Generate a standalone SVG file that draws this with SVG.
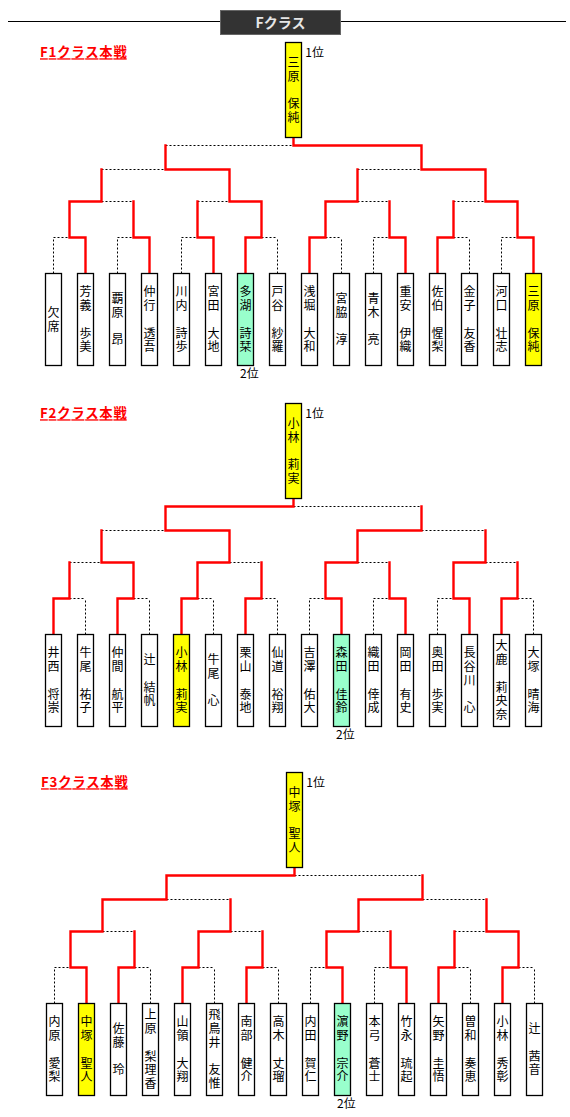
<svg xmlns="http://www.w3.org/2000/svg" width="570" height="1117" viewBox="0 0 570 1117">
<style>
text{font-family:"Noto Sans CJK JP","Noto Sans CJK SC",sans-serif}
.nm{font-size:12px;fill:#000;text-anchor:middle}
.box{fill:#fff;stroke:#000;stroke-width:1.3}
.win{fill:#ffff00}
.sec{fill:#99ffcc}
.red{fill:none;stroke:#ff0000;stroke-width:2.4;stroke-linecap:square;stroke-linejoin:miter}
.dot{fill:none;stroke:#000;stroke-width:1;stroke-dasharray:2 2}
.lbl{font-size:13.3px;font-weight:bold;fill:#ff0000;text-decoration:underline}
.rk{font-size:12px;fill:#000}
</style>
<rect width="570" height="1117" fill="#fff"/>
<g id="header">
<line x1="8" y1="21.5" x2="566" y2="21.5" stroke="#000" stroke-width="1.2"/>
<rect x="220.5" y="10.5" width="120" height="24" fill="#333333" stroke="#666666"/>
<text x="280.5" y="28" font-size="14" font-weight="bold" fill="#e6e6e6" text-anchor="middle">Fクラス</text>
</g>
<g id="connectors">
<g id="f1-lines">
<path class="dot" d="M53.5 273.5V237.5M117.5 273.5V237.5M181.5 273.5V237.5M277.5 273.5V237.5M341.5 273.5V237.5M373.5 273.5V237.5M469.5 273.5V237.5M501.5 273.5V237.5M53.5 237.5H69.5M117.5 237.5H133.5M181.5 237.5H197.5M261.5 237.5H277.5M325.5 237.5H341.5M373.5 237.5H389.5M453.5 237.5H469.5M501.5 237.5H517.5M101.5 201.5H133.5M197.5 201.5H229.5M357.5 201.5H389.5M453.5 201.5H485.5M101.5 169.5H165.5M357.5 169.5H421.5M165.5 145.5H293.5"/>
<path class="red" d="M85.5 273.5V237.5H69.5V201.5H101.5V169.5M149.5 273.5V237.5H133.5V201.5M213.5 273.5V237.5H197.5V201.5M245.5 273.5V237.5H261.5V201.5H229.5V169.5H165.5V145.5M309.5 273.5V237.5H325.5V201.5H357.5V169.5M405.5 273.5V237.5H389.5V201.5M437.5 273.5V237.5H453.5V201.5M533.5 273.5V237.5H517.5V201.5H485.5V169.5H421.5V145.5H293.5V137.5"/>
</g>
<g id="f2-lines" transform="translate(0,361)">
<path class="dot" d="M85.5 273.5V237.5M149.5 273.5V237.5M213.5 273.5V237.5M277.5 273.5V237.5M309.5 273.5V237.5M373.5 273.5V237.5M437.5 273.5V237.5M533.5 273.5V237.5M69.5 237.5H85.5M133.5 237.5H149.5M197.5 237.5H213.5M261.5 237.5H277.5M309.5 237.5H325.5M373.5 237.5H389.5M437.5 237.5H453.5M517.5 237.5H533.5M69.5 201.5H101.5M229.5 201.5H261.5M357.5 201.5H389.5M485.5 201.5H517.5M101.5 169.5H165.5M421.5 169.5H485.5M293.5 145.5H421.5"/>
<path class="red" d="M53.5 273.5V237.5H69.5V201.5M117.5 273.5V237.5H133.5V201.5H101.5V169.5M181.5 273.5V237.5H197.5V201.5H229.5V169.5H165.5V145.5H293.5V137.5M245.5 273.5V237.5H261.5V201.5M341.5 273.5V237.5H325.5V201.5H357.5V169.5H421.5V145.5M405.5 273.5V237.5H389.5V201.5M469.5 273.5V237.5H453.5V201.5H485.5V169.5M501.5 273.5V237.5H517.5V201.5"/>
</g>
<g id="f3-lines" transform="translate(1,730)">
<path class="dot" d="M53.5 273.5V237.5M149.5 273.5V237.5M213.5 273.5V237.5M277.5 273.5V237.5M309.5 273.5V237.5M373.5 273.5V237.5M469.5 273.5V237.5M533.5 273.5V237.5M53.5 237.5H69.5M133.5 237.5H149.5M197.5 237.5H213.5M261.5 237.5H277.5M309.5 237.5H325.5M373.5 237.5H389.5M453.5 237.5H469.5M517.5 237.5H533.5M101.5 201.5H133.5M229.5 201.5H261.5M357.5 201.5H389.5M453.5 201.5H485.5M165.5 169.5H229.5M421.5 169.5H485.5M293.5 145.5H421.5"/>
<path class="red" d="M85.5 273.5V237.5H69.5V201.5H101.5V169.5H165.5V145.5H293.5V137.5M117.5 273.5V237.5H133.5V201.5M181.5 273.5V237.5H197.5V201.5H229.5V169.5M245.5 273.5V237.5H261.5V201.5M341.5 273.5V237.5H325.5V201.5H357.5V169.5H421.5V145.5M405.5 273.5V237.5H389.5V201.5M437.5 273.5V237.5H453.5V201.5M501.5 273.5V237.5H517.5V201.5H485.5V169.5"/>
</g>
</g>

<g id="f1">
<text class="lbl" x="40" y="57.3" textLength="86.7" lengthAdjust="spacing">F1クラス本戦</text>
<g id="f1-winner"><rect class="box win" x="285.5" y="42.5" width="16" height="95"/><text class="nm" x="293.5 293.5 293.5 293.5" y="66.8 80.6 108.1 121.8">三原保純</text></g>
<text class="rk" x="305.3" y="56.5">1位</text>
<g id="f1-p00"><rect class="box" x="45.5" y="273.5" width="16" height="92"/><text class="nm" x="53.5 53.5" y="316.9 330.7">欠席</text></g>
<g id="f1-p01"><rect class="box" x="77.5" y="273.5" width="16" height="92"/><text class="nm" x="85.5 85.5 85.5 85.5" y="296.3 310.1 337.6 351.3">芳義歩美</text></g>
<g id="f1-p02"><rect class="box" x="109.5" y="273.5" width="16" height="92"/><text class="nm" x="117.5 117.5 117.5" y="303.2 316.9 344.4">覇原昂</text></g>
<g id="f1-p03"><rect class="box" x="141.5" y="273.5" width="16" height="92"/><text class="nm" x="149.5 149.5 149.5 149.5" y="296.3 310.1 337.6 351.3">仲行透吾</text></g>
<g id="f1-p04"><rect class="box" x="173.5" y="273.5" width="16" height="92"/><text class="nm" x="181.5 181.5 181.5 181.5" y="296.3 310.1 337.6 351.3">川内詩歩</text></g>
<g id="f1-p05"><rect class="box" x="205.5" y="273.5" width="16" height="92"/><text class="nm" x="213.5 213.5 213.5 213.5" y="296.3 310.1 337.6 351.3">宮田大地</text></g>
<g id="f1-p06"><rect class="box sec" x="237.5" y="273.5" width="16" height="92"/><text class="nm" x="245.5 245.5 245.5 245.5" y="296.3 310.1 337.6 351.3">多湖詩栞</text></g>
<g id="f1-p07"><rect class="box" x="269.5" y="273.5" width="16" height="92"/><text class="nm" x="277.5 277.5 277.5 277.5" y="296.3 310.1 337.6 351.3">戸谷紗羅</text></g>
<g id="f1-p08"><rect class="box" x="301.5" y="273.5" width="16" height="92"/><text class="nm" x="309.5 309.5 309.5 309.5" y="296.3 310.1 337.6 351.3">浅堀大和</text></g>
<g id="f1-p09"><rect class="box" x="333.5" y="273.5" width="16" height="92"/><text class="nm" x="341.5 341.5 341.5" y="303.2 316.9 344.4">宮脇淳</text></g>
<g id="f1-p10"><rect class="box" x="365.5" y="273.5" width="16" height="92"/><text class="nm" x="373.5 373.5 373.5" y="303.2 316.9 344.4">青木亮</text></g>
<g id="f1-p11"><rect class="box" x="397.5" y="273.5" width="16" height="92"/><text class="nm" x="405.5 405.5 405.5 405.5" y="296.3 310.1 337.6 351.3">重安伊織</text></g>
<g id="f1-p12"><rect class="box" x="429.5" y="273.5" width="16" height="92"/><text class="nm" x="437.5 437.5 437.5 437.5" y="296.3 310.1 337.6 351.3">佐伯惺梨</text></g>
<g id="f1-p13"><rect class="box" x="461.5" y="273.5" width="16" height="92"/><text class="nm" x="469.5 469.5 469.5 469.5" y="296.3 310.1 337.6 351.3">金子友香</text></g>
<g id="f1-p14"><rect class="box" x="493.5" y="273.5" width="16" height="92"/><text class="nm" x="501.5 501.5 501.5 501.5" y="296.3 310.1 337.6 351.3">河口壮志</text></g>
<g id="f1-p15"><rect class="box win" x="525.5" y="273.5" width="16" height="92"/><text class="nm" x="533.5 533.5 533.5 533.5" y="296.3 310.1 337.6 351.3">三原保純</text></g>
<text class="rk" x="240" y="377.5">2位</text>
</g>

<g id="f2" transform="translate(0,361)">
<text class="lbl" x="40" y="57.3" textLength="86.7" lengthAdjust="spacing">F2クラス本戦</text>
<g id="f2-winner"><rect class="box win" x="285.5" y="42.5" width="16" height="95"/><text class="nm" x="293.5 293.5 293.5 293.5" y="66.8 80.6 108.1 121.8">小林莉実</text></g>
<text class="rk" x="305.3" y="56.5">1位</text>
<g id="f2-p00"><rect class="box" x="45.5" y="273.5" width="16" height="92"/><text class="nm" x="53.5 53.5 53.5 53.5" y="296.3 310.1 337.6 351.3">井西将崇</text></g>
<g id="f2-p01"><rect class="box" x="77.5" y="273.5" width="16" height="92"/><text class="nm" x="85.5 85.5 85.5 85.5" y="296.3 310.1 337.6 351.3">牛尾祐子</text></g>
<g id="f2-p02"><rect class="box" x="109.5" y="273.5" width="16" height="92"/><text class="nm" x="117.5 117.5 117.5 117.5" y="296.3 310.1 337.6 351.3">仲間航平</text></g>
<g id="f2-p03"><rect class="box" x="141.5" y="273.5" width="16" height="92"/><text class="nm" x="149.5 149.5 149.5" y="303.2 330.7 344.4">辻結帆</text></g>
<g id="f2-p04"><rect class="box win" x="173.5" y="273.5" width="16" height="92"/><text class="nm" x="181.5 181.5 181.5 181.5" y="296.3 310.1 337.6 351.3">小林莉実</text></g>
<g id="f2-p05"><rect class="box" x="205.5" y="273.5" width="16" height="92"/><text class="nm" x="213.5 213.5 213.5" y="303.2 316.9 344.4">牛尾心</text></g>
<g id="f2-p06"><rect class="box" x="237.5" y="273.5" width="16" height="92"/><text class="nm" x="245.5 245.5 245.5 245.5" y="296.3 310.1 337.6 351.3">栗山泰地</text></g>
<g id="f2-p07"><rect class="box" x="269.5" y="273.5" width="16" height="92"/><text class="nm" x="277.5 277.5 277.5 277.5" y="296.3 310.1 337.6 351.3">仙道裕翔</text></g>
<g id="f2-p08"><rect class="box" x="301.5" y="273.5" width="16" height="92"/><text class="nm" x="309.5 309.5 309.5 309.5" y="296.3 310.1 337.6 351.3">吉澤佑大</text></g>
<g id="f2-p09"><rect class="box sec" x="333.5" y="273.5" width="16" height="92"/><text class="nm" x="341.5 341.5 341.5 341.5" y="296.3 310.1 337.6 351.3">森田佳鈴</text></g>
<g id="f2-p10"><rect class="box" x="365.5" y="273.5" width="16" height="92"/><text class="nm" x="373.5 373.5 373.5 373.5" y="296.3 310.1 337.6 351.3">織田倖成</text></g>
<g id="f2-p11"><rect class="box" x="397.5" y="273.5" width="16" height="92"/><text class="nm" x="405.5 405.5 405.5 405.5" y="296.3 310.1 337.6 351.3">岡田有史</text></g>
<g id="f2-p12"><rect class="box" x="429.5" y="273.5" width="16" height="92"/><text class="nm" x="437.5 437.5 437.5 437.5" y="296.3 310.1 337.6 351.3">奥田歩実</text></g>
<g id="f2-p13"><rect class="box" x="461.5" y="273.5" width="16" height="92"/><text class="nm" x="469.5 469.5 469.5 469.5" y="296.3 310.1 323.8 351.3">長谷川心</text></g>
<g id="f2-p14"><rect class="box" x="493.5" y="273.5" width="16" height="92"/><text class="nm" x="501.5 501.5 501.5 501.5 501.5" y="289.4 303.2 330.7 344.4 358.2">大鹿莉央奈</text></g>
<g id="f2-p15"><rect class="box" x="525.5" y="273.5" width="16" height="92"/><text class="nm" x="533.5 533.5 533.5 533.5" y="296.3 310.1 337.6 351.3">大塚晴海</text></g>
<text class="rk" x="336" y="377.5">2位</text>
</g>

<g id="f3" transform="translate(1,730)">
<text class="lbl" x="40" y="57.3" textLength="86.7" lengthAdjust="spacing">F3クラス本戦</text>
<g id="f3-winner"><rect class="box win" x="285.5" y="42.5" width="16" height="95"/><text class="nm" x="293.5 293.5 293.5 293.5" y="66.8 80.6 108.1 121.8">中塚聖人</text></g>
<text class="rk" x="305.3" y="56.5">1位</text>
<g id="f3-p00"><rect class="box" x="45.5" y="273.5" width="16" height="92"/><text class="nm" x="53.5 53.5 53.5 53.5" y="296.3 310.1 337.6 351.3">内原愛梨</text></g>
<g id="f3-p01"><rect class="box win" x="77.5" y="273.5" width="16" height="92"/><text class="nm" x="85.5 85.5 85.5 85.5" y="296.3 310.1 337.6 351.3">中塚聖人</text></g>
<g id="f3-p02"><rect class="box" x="109.5" y="273.5" width="16" height="92"/><text class="nm" x="117.5 117.5 117.5" y="303.2 316.9 344.4">佐藤玲</text></g>
<g id="f3-p03"><rect class="box" x="141.5" y="273.5" width="16" height="92"/><text class="nm" x="149.5 149.5 149.5 149.5 149.5" y="289.4 303.2 330.7 344.4 358.2">上原梨理香</text></g>
<g id="f3-p04"><rect class="box" x="173.5" y="273.5" width="16" height="92"/><text class="nm" x="181.5 181.5 181.5 181.5" y="296.3 310.1 337.6 351.3">山領大翔</text></g>
<g id="f3-p05"><rect class="box" x="205.5" y="273.5" width="16" height="92"/><text class="nm" x="213.5 213.5 213.5 213.5 213.5" y="289.4 303.2 316.9 344.4 358.2">飛鳥井友惟</text></g>
<g id="f3-p06"><rect class="box" x="237.5" y="273.5" width="16" height="92"/><text class="nm" x="245.5 245.5 245.5 245.5" y="296.3 310.1 337.6 351.3">南部健介</text></g>
<g id="f3-p07"><rect class="box" x="269.5" y="273.5" width="16" height="92"/><text class="nm" x="277.5 277.5 277.5 277.5" y="296.3 310.1 337.6 351.3">高木丈瑠</text></g>
<g id="f3-p08"><rect class="box" x="301.5" y="273.5" width="16" height="92"/><text class="nm" x="309.5 309.5 309.5 309.5" y="296.3 310.1 337.6 351.3">内田賀仁</text></g>
<g id="f3-p09"><rect class="box sec" x="333.5" y="273.5" width="16" height="92"/><text class="nm" x="341.5 341.5 341.5 341.5" y="296.3 310.1 337.6 351.3">濵野宗介</text></g>
<g id="f3-p10"><rect class="box" x="365.5" y="273.5" width="16" height="92"/><text class="nm" x="373.5 373.5 373.5 373.5" y="296.3 310.1 337.6 351.3">本弓蒼士</text></g>
<g id="f3-p11"><rect class="box" x="397.5" y="273.5" width="16" height="92"/><text class="nm" x="405.5 405.5 405.5 405.5" y="296.3 310.1 337.6 351.3">竹永琉起</text></g>
<g id="f3-p12"><rect class="box" x="429.5" y="273.5" width="16" height="92"/><text class="nm" x="437.5 437.5 437.5 437.5" y="296.3 310.1 337.6 351.3">矢野圭悟</text></g>
<g id="f3-p13"><rect class="box" x="461.5" y="273.5" width="16" height="92"/><text class="nm" x="469.5 469.5 469.5 469.5" y="296.3 310.1 337.6 351.3">曽和奏恵</text></g>
<g id="f3-p14"><rect class="box" x="493.5" y="273.5" width="16" height="92"/><text class="nm" x="501.5 501.5 501.5 501.5" y="296.3 310.1 337.6 351.3">小林秀彰</text></g>
<g id="f3-p15"><rect class="box" x="525.5" y="273.5" width="16" height="92"/><text class="nm" x="533.5 533.5 533.5" y="303.2 330.7 344.4">辻茜音</text></g>
<text class="rk" x="336" y="377.5">2位</text>
</g>
</svg>
